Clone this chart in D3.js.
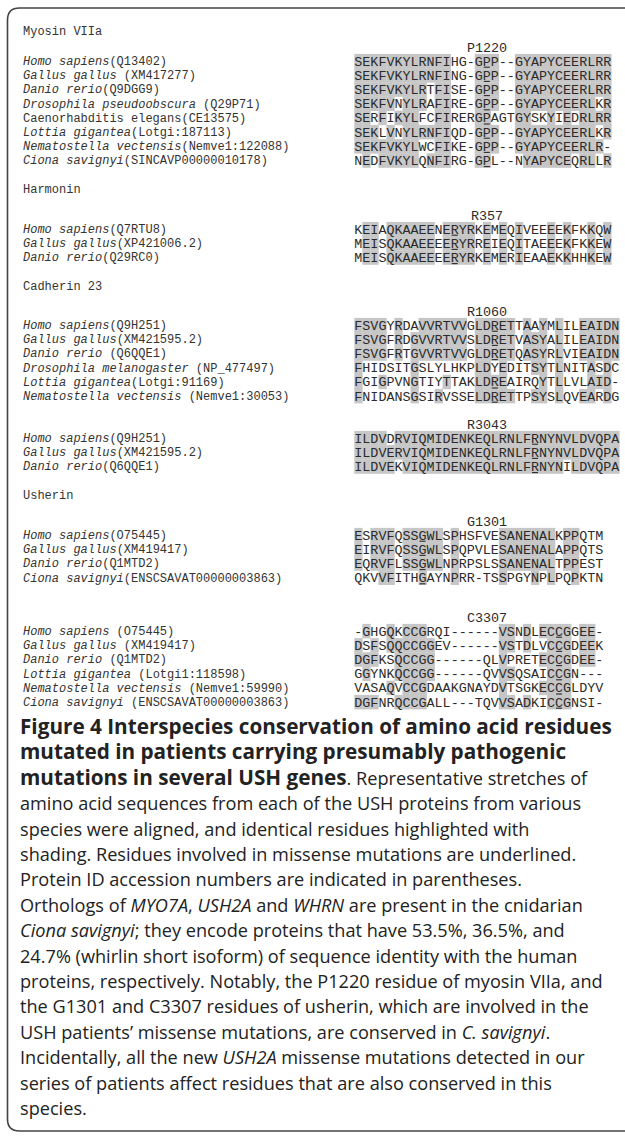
<!DOCTYPE html>
<html><head><meta charset="utf-8">
<script src="https://cdn.jsdelivr.net/npm/d3@7/dist/d3.min.js"></script>
<style>
html,body{margin:0;padding:0;background:#fff;}
svg text{white-space:pre;}
</style></head>
<body><svg id="chart" width="625" height="1146" xmlns="http://www.w3.org/2000/svg"></svg>
<script>
// ---------------- DATA ----------------
const myosinSpecies = ["Homo sapiens","Gallus gallus","Danio rerio","Drosophila pseudoobscura","Caenorhabditis elegans","Lottia gigantea","Nematostella vectensis","Ciona savignyi"];
const myosinIds = ["(Q13402)"," (XM417277)","(Q9DGG9)"," (Q29P71)","(CE13575)","(Lotgi:187113)","(Nemve1:122088)","(SINCAVP00000010178)"];
const myosinItalic = [1,1,1,1,0,1,1,1];
const myosinSeqs = [
 "SEKFVKYLRNFIHG-GPP--GYAPYCEERLRR",
 "SEKFVKYLRNFING-GPP--GYAPYCEERLRR",
 "SEKFVKYLRTFISE-GPP--GYAPYCEERLRR",
 "SEKFVNYLRAFIRE-GPP--GYAPYCEERLKR",
 "SERFIKYLFCFIRERGPAGTGYSKYIEDRLRR",
 "SEKLVNYLRNFIQD-GPP--GYAPYCEERLKR",
 "SEKFVKYLWCFIKE-GPP--GYAPYCEERLR-",
 "NEDFVKYLQNFIRG-GPL--NYAPYCEQRLLR"];
const myosinShade = [
 "############...###..############",
 "############...###..############",
 "#########.##...###..############",
 "#####.###.##...###..##########.#",
 "##.#.###..##...##...##..#.#.####",
 "###.#.######...###..##########.#",
 "########..##...###..###########.",
 ".#.#####.###...##....######.##.#"];
const myosinMutation = {label:"P1220", col:16};

const harmoninSpecies = ["Homo sapiens","Gallus gallus","Danio rerio"];
const harmoninIds = ["(Q7RTU8)","(XP421006.2)","(Q29RC0)"];
const harmoninItalic = [1,1,1];
const harmoninSeqs = [
 "KEIAQKAAEENERYRKEMEQIVEEEEKFKKQW",
 "MEISQKAAEEEERYRREIEQITAEEEKFKKEW",
 "MEISQKAAEEEERYRKEMERIEAAEKKHHKEW"];
const harmoninShade = [
 ".##.######.####.#.#.#...#.#..#.#",
 ".##.######.####.#.#.#...#.#..#.#",
 ".##.######.####.#.#.#...#.#..#.#"];
const harmoninMutation = {label:"R357", col:12};

const cadherinSpecies = ["Homo sapiens","Gallus gallus","Danio rerio","Drosophila melanogaster","Lottia gigantea","Nematostella vectensis"];
const cadherinIds = ["(Q9H251)","(XM421595.2)"," (Q6QQE1)"," (NP_477497)","(Lotgi:91169)"," (Nemve1:30053)"];
const cadherinItalic = [1,1,1,1,1,1];
const cadherinSeqs = [
 "FSVGYRDAVVRTVVGLDRETTAAYMLILEAIDN",
 "FSVGFRDGVVRTVVSLDRETVASYALILEAIDN",
 "FSVGFRTGVVRTVVGLDRETQASYRLVIEAIDN",
 "FHIDSITGSLYLHKPLDYEDITSYTLNITASDC",
 "FGIGPVNGTIYTTAKLDREAIRQYTLLVLAID-",
 "FNIDANSGSIRVSSELDRETTPSYSLQVEARDG"];
const cadherinShade = [
 "####.#..######.#####.#.#.#..#####",
 "####.#.#######.#####.###.#..#####",
 "####.#.#######.#####.###.#..#####",
 "#......#.......##.#...##.#...#.#.",
 "#..#...#...#...####....#.#...###.",
 "#......#..#....#####..##.#..##.#."];
const cadherinMutation = {label:"R1060", col:17};
const cadherinUnderlined = [1,1,1,0,1,1];

const cad2Species = ["Homo sapiens","Gallus gallus","Danio rerio"];
const cad2Ids = ["(Q9H251)","(XM421595.2)","(Q6QQE1)"];
const cad2Italic = [1,1,1];
const cad2Seqs = [
 "ILDVDRVIQMIDENKEQLRNLFRNYNVLDVQPA",
 "ILDVERVIQMIDENKEQLRNLFRNYNVLDVQPA",
 "ILDVEKVIQMIDENKEQLRNLFRNYNILDVQPA"];
const cad2Shade = [
 "####.############################",
 "#################################",
 "#####.####################.######"];
const cad2Mutation = {label:"R3043", col:22};

const usherinSpecies = ["Homo sapiens","Gallus gallus","Danio rerio","Ciona savignyi"];
const usherinIds = ["(O75445)","(XM419417)","(Q1MTD2)","(ENSCSAVAT00000003863)"];
const usherinItalic = [1,1,1,1];
const usherinSeqs = [
 "ESRVFQSSGWLSPHSFVESANENALKPPQTM",
 "EIRVFQSSGWLSPQPVLESANENALAPPQTS",
 "EQRVFLSSGWLNPRPSLSSANENALTPPEST",
 "QKVVFITHGAYNPRR-TSSPGYNPLPQPKTN"];
const usherinShade = [
 "#.###.#####.#.....#######.##...",
 "#.###.#####.#.....#######.##...",
 "#.###.#####.#.....#######.##...",
 "...##...#...#.....#...#.#..#..."];
const usherinMutation = {label:"G1301", col:8};

const ush2Species = ["Homo sapiens","Gallus gallus","Danio rerio","Lottia gigantea","Nematostella vectensis","Ciona savignyi"];
const ush2Ids = [" (O75445)"," (XM419417)"," (Q1MTD2)"," (Lotgi1:118598)"," (Nemve1:59990)"," (ENSCSAVAT00000003863)"];
const ush2Italic = [1,1,1,1,1,1];
const ush2Seqs = [
 "-GHGQKCCGRQI------VSNDLECCGGEE-",
 "DSFSQQCCGGEV------VSTDLVCCGDEEK",
 "DGFKSQCCGG------QLVPRETECCGDEE-",
 "GGYNKQCCGG------QVVSQSAICCGN---",
 "VASAQVCCGDAAKGNAYDVTSGKECCGLDYV",
 "DGFNRQCCGALL---TQVVSADKICCGNSI-"];
const ush2Shade = [
 ".#..#.###.........##.#.####.##.",
 "#.#.######........##.#..###.##.",
 "###..#####........#....####.##.",
 ".#...#####........##....###....",
 "....#.###.........#....####....",
 "###..####.........##.#..###...."];
const ush2Mutation = {label:"C3307", col:25};

const captionLines = [
 [["b","Figure 4 Interspecies conservation of amino acid residues"]],
 [["b","mutated in patients carrying presumably pathogenic"]],
 [["b","mutations in several USH genes"],["r",". Representative stretches of"]],
 [["r","amino acid sequences from each of the USH proteins from various"]],
 [["r","species were aligned, and identical residues highlighted with"]],
 [["r","shading. Residues involved in missense mutations are underlined."]],
 [["r","Protein ID accession numbers are indicated in parentheses."]],
 [["r","Orthologs of "],["i","MYO7A"],["r",", "],["i","USH2A"],["r"," and "],["i","WHRN"],["r"," are present in the cnidarian"]],
 [["i","Ciona savignyi"],["r","; they encode proteins that have 53.5%, 36.5%, and"]],
 [["r","24.7% (whirlin short isoform) of sequence identity with the human"]],
 [["r","proteins, respectively. Notably, the P1220 residue of myosin VIIa, and"]],
 [["r","the G1301 and C3307 residues of usherin, which are involved in the"]],
 [["r","USH patients\u2019 missense mutations, are conserved in "],["i","C. savignyi"],["r","."]],
 [["r","Incidentally, all the new "],["i","USH2A"],["r"," missense mutations detected in our"]],
 [["r","series of patients affect residues that are also conserved in this"]],
 [["r","species."]]
];

// ---------------- LAYOUT ----------------
const W = 625, H = 1146;
const seqX0 = 354.3, pitch = 8.03, rowStep = 14.2;
const labelX = 23, mutX = 487;
const monoFont = "'Liberation Mono','DejaVu Sans Mono',monospace";
const shadeColor = "#c6c6c6", seqColor = "#2b2b2b", labelColor = "#333";

const blocks = [
 {title:"Myosin VIIa", titleY:31, mutY:47, y0:61, sp:myosinSpecies, ids:myosinIds, it:myosinItalic, seqs:myosinSeqs, shade:myosinShade, mut:myosinMutation},
 {title:"Harmonin", titleY:189, mutY:215, y0:229, sp:harmoninSpecies, ids:harmoninIds, it:harmoninItalic, seqs:harmoninSeqs, shade:harmoninShade, mut:harmoninMutation},
 {title:"Cadherin 23", titleY:286, mutY:311, y0:325, sp:cadherinSpecies, ids:cadherinIds, it:cadherinItalic, seqs:cadherinSeqs, shade:cadherinShade, mut:cadherinMutation, under:cadherinUnderlined},
 {title:null, mutY:424, y0:438, sp:cad2Species, ids:cad2Ids, it:cad2Italic, seqs:cad2Seqs, shade:cad2Shade, mut:cad2Mutation},
 {title:"Usherin", titleY:495, mutY:521, y0:535, sp:usherinSpecies, ids:usherinIds, it:usherinItalic, seqs:usherinSeqs, shade:usherinShade, mut:usherinMutation},
 {title:null, mutY:617, y0:631, sp:ush2Species, ids:ush2Ids, it:ush2Italic, seqs:ush2Seqs, shade:ush2Shade, mut:ush2Mutation}
];

const svg = d3.select("#chart");
svg.append("rect").attr("width",W).attr("height",H).attr("fill","#fff");

const x = d3.scaleBand().domain(d3.range(33)).range([seqX0, seqX0 + 33*pitch]).padding(0);

blocks.forEach((b, bi) => {
  const g = svg.append("g").attr("class","block"+bi);
  const y = d3.scaleLinear().domain([0,1]).range([b.y0, b.y0 + rowStep]);
  if (b.title) {
    g.append("text").attr("x",labelX).attr("y",b.titleY+4).attr("font-family",monoFont)
      .attr("font-size",12).attr("fill",labelColor).text(b.title);
  }
  g.append("text").attr("x",mutX).attr("y",b.mutY+4.5).attr("text-anchor","middle")
    .attr("font-family",monoFont).attr("font-size",13.4).attr("fill",seqColor).text(b.mut.label);

  const cells = [];
  b.seqs.forEach((s, r) => {
    s.split("").forEach((ch, c) => cells.push({r, c, ch, shaded: b.shade[r][c] === "#"}));
  });
  g.selectAll("rect.cell").data(cells.filter(d => d.shaded)).join("rect")
    .attr("class","cell")
    .attr("x", d => x(d.c)).attr("width", x.bandwidth() + 0.3)
    .attr("y", d => y(d.r) - rowStep/2).attr("height", rowStep + 0.3)
    .attr("fill", shadeColor);
  g.selectAll("text.res").data(cells).join("text")
    .attr("class","res")
    .attr("x", d => x(d.c) + x.bandwidth()/2).attr("y", d => y(d.r) + 4.5)
    .attr("text-anchor","middle").attr("font-family",monoFont).attr("font-size",13.4)
    .attr("fill",seqColor).text(d => d.ch);
  const urows = b.seqs.map((s, r) => r).filter(r => !b.under || b.under[r]);
  g.selectAll("line.ul").data(urows).join("line")
    .attr("x1", r => x(b.mut.col) + 1).attr("x2", r => x(b.mut.col) + x.bandwidth() - 1)
    .attr("y1", r => y(r) + 6.2).attr("y2", r => y(r) + 6.2)
    .attr("stroke", seqColor).attr("stroke-width", 1.1);
  const lab = g.selectAll("text.lab").data(b.sp.map((s, i) => ({s, id:b.ids[i], it:b.it[i], i}))).join("text")
    .attr("class","lab").attr("x",labelX).attr("y", d => y(d.i) + 4)
    .attr("font-family",monoFont).attr("font-size",12).attr("fill",labelColor)
    .attr("xml:space","preserve");
  lab.append("tspan").attr("font-style", d => d.it ? "italic" : "normal").text(d => d.s);
  lab.append("tspan").text(d => d.id);
});

// ---------------- CAPTION ----------------
const capFont = "'Open Sans','Noto Sans',sans-serif";
const capX = 20, capY0 = 734, capStep = 25.4;
function fitSize(str, weight, target){
  const t = svg.append("text").attr("font-family",capFont).attr("font-size",16).attr("font-weight",weight).text(str);
  const w = t.node().getComputedTextLength(); t.remove();
  return 16 * target / w;
}
const boldSize = fitSize(captionLines[0][0][1], "bold", 592);
const regSize = fitSize(captionLines[10][0][1], "normal", 583);
const cap = svg.append("g").attr("class","caption");
captionLines.forEach((parts, i) => {
  const t = cap.append("text").attr("x",capX).attr("y",capY0 + i*capStep)
    .attr("font-family",capFont).attr("fill","#222").attr("xml:space","preserve");
  parts.forEach(([k, s]) => {
    t.append("tspan").attr("font-weight", k === "b" ? "bold" : "normal")
      .attr("font-style", k === "i" ? "italic" : "normal")
      .attr("font-size", k === "b" ? boldSize : regSize).text(s);
  });
});

// ---------------- FRAME ----------------
const fTop = 8, fLeft = 7.5, fBottom = capY0 + (captionLines.length-1)*capStep + 16, rad = 12;
svg.append("path")
  .attr("d", `M${W+2},${fTop} H${fLeft+rad} Q${fLeft},${fTop} ${fLeft},${fTop+rad} V${fBottom-rad} Q${fLeft},${fBottom} ${fLeft+rad},${fBottom} H${W+2}`)
  .attr("fill","none").attr("stroke","#444").attr("stroke-width",1.6);
</script>
</body></html>
